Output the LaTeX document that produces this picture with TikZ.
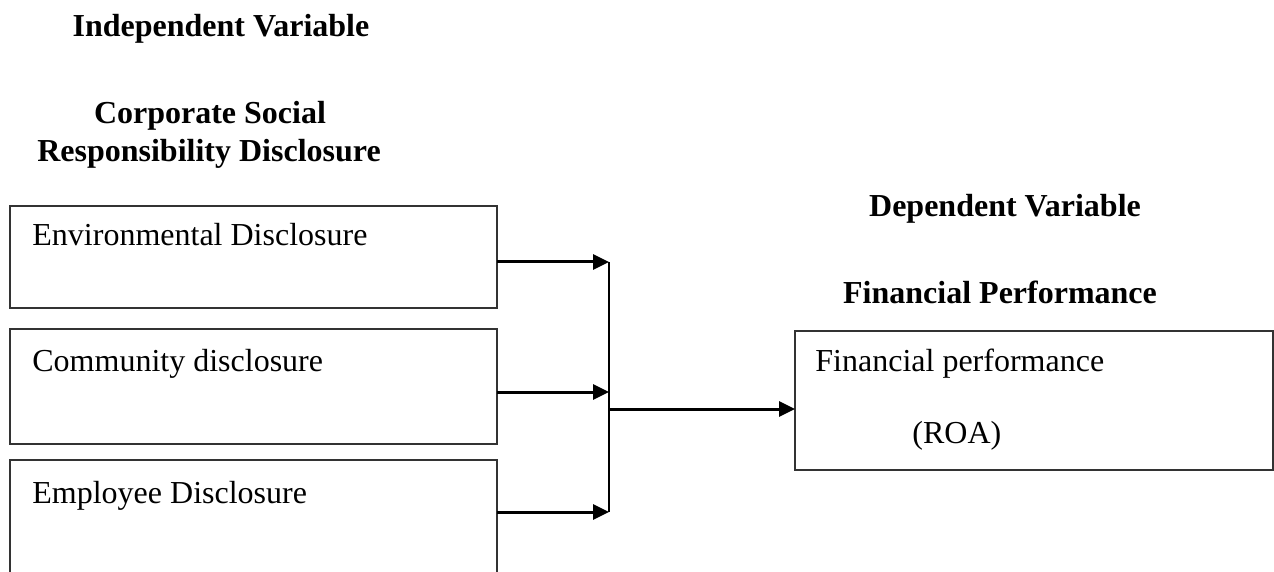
\documentclass[tikz,border=0pt]{standalone}
\usepackage{fontspec}
\setmainfont{Liberation Serif}
\usetikzlibrary{arrows.meta}
\begin{document}
\begin{tikzpicture}[x=0.5pt,y=-0.5pt,
  box/.style={draw=black!80, line width=0.7pt, inner sep=0pt, outer sep=0pt},
  txt/.style={font=\fontsize{16pt}{19pt}\selectfont, inner sep=0pt, anchor=base west},
  head/.style={font=\fontsize{16pt}{19pt}\selectfont\bfseries, inner sep=0pt, anchor=base},
  arr/.style={line width=1.5pt, -{Triangle[length=8pt,width=7.5pt]}},
  vbar/.style={line width=1.2pt}]
\useasboundingbox (0,0) rectangle (1274,572);
\clip (0,0) rectangle (1274,572);
% headings
\node[head] (indep) at (221,37) {Independent Variable};
\node[head] (csr1) at (210,124) {Corporate Social};
\node[head] (csr2) at (209,162) {Responsibility Disclosure};
\node[head] (dep) at (1005,217) {Dependent Variable};
\node[head] (fp) at (1000,303) {Financial Performance};
% boxes
\node[box, minimum width=243.5pt, minimum height=51pt] (box1) at (253.5,257) {};
\node[box, minimum width=243.5pt, minimum height=57.5pt] (box2) at (253.5,386.5) {};
\node[box, minimum width=243.5pt, minimum height=70pt] (box3) at (253.5,530) {};
\node[box, minimum width=239pt, minimum height=69.5pt] (box4) at (1034,400.5) {};
% box texts
\node[txt] (t1) at (32,246) {Environmental Disclosure};
\node[txt] (t2) at (32,371) {Community disclosure};
\node[txt] (t3) at (32,503) {Employee Disclosure};
\node[txt] (t4) at (815,371) {Financial performance};
\node[txt] (t5) at (912,443) {(ROA)};
% connectors
\coordinate (j1) at (609,262);
\coordinate (j2) at (609,392);
\coordinate (j3) at (609,512);
\coordinate (m) at (609,409);
\draw[arr] (box1.east |- j1) -- (j1);
\draw[arr] (box2.east |- j2) -- (j2);
\draw[arr] (box3.east |- j3) -- (j3);
\draw[vbar] (j1) -- (j3);
\draw[arr] (m) -- (box4.west |- m);
\end{tikzpicture}
\end{document}
